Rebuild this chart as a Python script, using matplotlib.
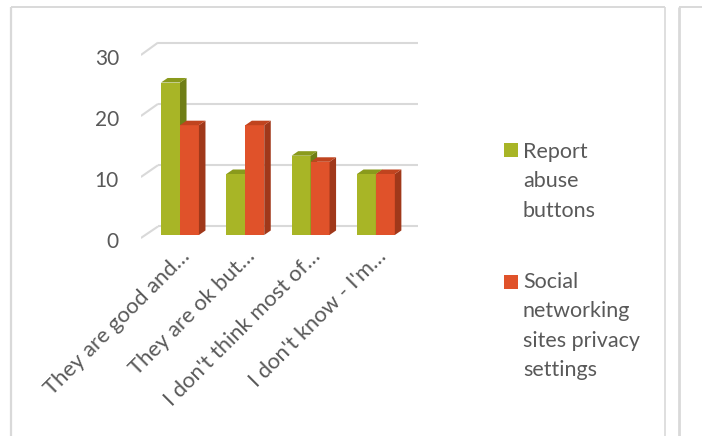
import matplotlib
matplotlib.use("Agg")
import matplotlib.pyplot as plt
from matplotlib.patches import Polygon, Rectangle
from matplotlib.lines import Line2D
import numpy as np

# ---- data ----
categories = ["They are good and…", "They are ok but…",
              "I don't think most of…", "I don't know - I'm…"]
series_names = ["Report\nabuse\nbuttons", "Social\nnetworking\nsites privacy\nsettings"]
report_abuse = [25, 10, 13, 10]
privacy_settings = [18, 18, 12, 10]
yticks = [0, 10, 20, 30]

front_colors = ["#A8B526", "#E0522A"]
side_colors = ["#6F7E16", "#A0381A"]
top_colors = ["#8A9A1C", "#C0441F"]
grid_color = "#D9D9D9"
text_color = "#595959"
FONT = "Lato"

W, H = 702, 436
fig = plt.figure(figsize=(W / 100, H / 100), dpi=100)
fig.patch.set_facecolor("white")

# axes mapping (pixel-based)
PXY = 6.1      # px per value unit
Y0 = 235       # px of value 0 (bar base)
PXX = 65.3     # px per category unit
X0 = 180       # px of category 0 centre
ylim = (-10, 35)
xlim = (-0.6, 3.75)
left_px = X0 + xlim[0] * PXX
right_px = X0 + xlim[1] * PXX
top_px = Y0 - ylim[1] * PXY
bot_px = Y0 - ylim[0] * PXY
ax = fig.add_axes([left_px / W, 1 - bot_px / H,
                   (right_px - left_px) / W, (bot_px - top_px) / H])
ax.set_xlim(*xlim)
ax.set_ylim(*ylim)
ax.axis("off")

# ---- 3D-ish gridlines ----
back_dx = 0.263
back_dy = 1.4
front_dy = -0.5
for v in yticks:
    ax.plot([xlim[0], xlim[0] + back_dx], [v + front_dy, v + back_dy * (1 + v / 300)],
            color=grid_color, lw=1.5, solid_capstyle="butt", zorder=1)
    ax.plot([xlim[0] + back_dx, 3.645], [v + back_dy * (1 + v / 300)] * 2,
            color=grid_color, lw=1.5, solid_capstyle="butt", zorder=1)
    ax.text(-0.935, v - 1.1, f"{v}", ha="right", va="center",
            fontsize=15, color=text_color, family=FONT)

# ---- bars ----
x = np.arange(len(categories))
w = 0.29
ddx = 0.1
ddy = 0.74
for s, vals in enumerate([report_abuse, privacy_settings]):
    lefts = x - w + s * w
    bars = ax.bar(lefts, vals, width=w, align="edge",
                  color=front_colors[s], zorder=3 + s)
    for l, h in zip(lefts, vals):
        r = l + w
        side = Polygon([(r, 0), (r + ddx, ddy), (r + ddx, h + ddy), (r, h)],
                       closed=True, facecolor=side_colors[s], edgecolor="none",
                       zorder=3 + s)
        top = Polygon([(l, h), (r, h), (r + ddx, h + ddy), (l + ddx, h + ddy)],
                      closed=True, facecolor=top_colors[s], edgecolor="none",
                      zorder=3 + s)
        ax.add_patch(side)
        ax.add_patch(top)

# ---- category labels ----
for i, c in enumerate(categories):
    ax.text(i + 0.0, -1.8, c, rotation=45, rotation_mode="anchor",
            ha="right", va="top", fontsize=15.8, color=text_color,
            family=FONT, clip_on=False)

# ---- legend (manual) ----
leg_sq_x = 504
leg_sq = [(143, 158), (275, 288)]
line_step = 29.3
for s, name in enumerate(series_names):
    top_y, base_y = leg_sq[s]
    fig.add_artist(Rectangle((leg_sq_x / W, 1 - (top_y + 14) / H), 14 / W, 14 / H,
                             transform=fig.transFigure, facecolor=front_colors[s],
                             edgecolor="none"))
    for k, line in enumerate(name.split("\n")):
        fig.text(523 / W, 1 - (base_y + k * line_step) / H, line, ha="left",
                 va="baseline", fontsize=15.5, color=text_color, family=FONT)

# ---- frames ----
def fline(xs, ys, lw=1.4, color=grid_color):
    fig.add_artist(Line2D([v / W for v in xs], [1 - v / H for v in ys],
                          transform=fig.transFigure, color=color, lw=lw,
                          solid_capstyle="butt"))

fline([11, 11], [7, 436], lw=1.6)
fline([11, 665], [7.5, 7.5], lw=1.4)
fline([665, 665], [7, 436], lw=1.2)
fline([679, 679], [7, 436], lw=2.0)
fline([679, 702], [7.5, 7.5], lw=1.4)

fig.savefig("out.png", dpi=100, facecolor="white")
